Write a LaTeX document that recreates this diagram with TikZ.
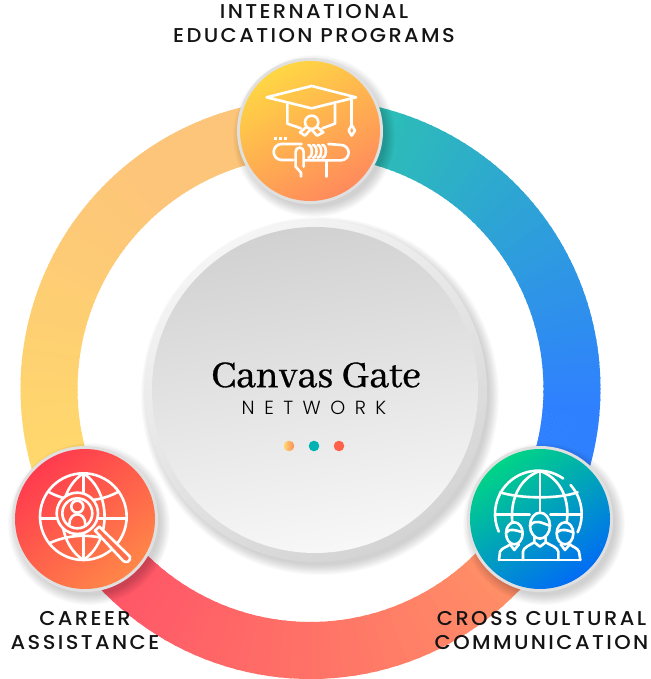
\documentclass[tikz,border=0pt]{standalone}
\usepackage{fontspec}
\setmainfont{Liberation Serif}
\newfontfamily\titlefont[FakeBold=0.7]{Abhaya Libre}
\newfontfamily\lblfont[LetterSpace=12,FakeStretch=1.05]{Poppins Medium}
\newfontfamily\netfont[LetterSpace=50]{Poppins Light}
\usetikzlibrary{calc}
\definecolor{cA}{HTML}{FBB585}
\definecolor{cB}{HTML}{FFD96B}
\definecolor{cC}{HTML}{FF4A68}
\definecolor{cD}{HTML}{FF9A66}
\definecolor{cE}{HTML}{2CC5AE}
\definecolor{cF}{HTML}{2F80FF}
\definecolor{tA}{HTML}{FFD644}
\definecolor{tB}{HTML}{FF8A5C}
\definecolor{lA}{HTML}{FF3B4E}
\definecolor{lB}{HTML}{FF8648}
\definecolor{rA}{HTML}{00D486}
\definecolor{rB}{HTML}{006CF5}
\tikzset{
  lbl/.style={font=\lblfont\fontsize{20}{24}\selectfont, align=center, text=black!92, inner sep=0pt},
  ico/.style={every path/.style={draw=white,line width=2.6pt,line cap=round,line join=round}},
}
\newcommand{\ringarc}[4]{%
  \foreach \i in {0,...,59}{%
    \pgfmathsetmacro{\aa}{#1+(#2-#1)*\i/60}%
    \pgfmathsetmacro{\ab}{#1+(#2-#1)*(\i+1.3)/60}%
    \pgfmathsetmacro{\pp}{100*(1-\i/59)}%
    \fill[#3!\pp!#4] ($(rc)+(\aa:290pt)$) arc[start angle=\aa,end angle=\ab,radius=290pt]
      -- ($(rc)+(\ab:233pt)$) arc[start angle=\ab,end angle=\aa,radius=233pt] -- cycle;
  }%
}
\newcommand{\softshadow}[3]{%
  \foreach \k in {0,...,9}{%
    \fill[black,opacity=0.018] (#1+4,#2-5) circle[radius=#3+8-\k*1.1];
  }%
}
\begin{document}
\begin{tikzpicture}[x=1pt,y=1pt]
\useasboundingbox (0,0) rectangle (650,679);
\coordinate (rc) at (310.5,290);
\ringarc{86}{130}{cA}{cA!55!cB}
\ringarc{130}{200}{cA!55!cB}{cB}
\ringarc{205}{335}{cC}{cD}
\ringarc{85}{-5}{cE}{cF}
\ringarc{-5}{-25}{cF}{cF}

% centre disc
\softshadow{316}{288}{171}
\shade[top color=black!4,bottom color=black!17,shading angle=30] (316,288) circle[radius=171];
\shade[top color=black!18,bottom color=black!3,shading angle=10] (315,289) circle[radius=163];
\node (title) at (316,304) {\titlefont\fontsize{41.5}{44}\selectfont Canvas Gate};
\node (net) at (314,271) {\netfont\fontsize{19}{22}\selectfont NETWORK};
\shade[left color=cB,right color=tB] (289,233) circle[radius=5.3];
\fill[fill={rgb,255:red,0;green,178;blue,178}] (314,233) circle[radius=5.3];
\fill[fill={rgb,255:red,255;green,96;blue,74}] (339,233) circle[radius=5.3];

% top badge
\softshadow{310}{548}{73}
\fill[black!12] (310,548) circle[radius=73];
\shade[top color=tA,bottom color=tB,shading angle=30] (310,548) circle[radius=70];
\begin{scope}[shift={(225,634)},x=0.3333pt,y=-0.3333pt,ico]
\draw (125,157) -- (260,123) -- (393,157) -- (260,190) -- cycle;
\draw (380,165) -- (380,240);
\draw (380,240) -- (371,257) -- (380,272) -- (390,257) -- cycle;
\draw (187,178) -- (187,236) -- (228,250);
\draw (330,178) -- (330,236) -- (292,250);
\draw (260,232) circle[radius=20];
\draw (243,247) -- (225,262) -- (240,272) -- (258,252) -- (276,272) -- (295,262) -- (277,247);
\draw[line cap=rect,dash pattern=on 0.6pt off 4.4pt] (150,280) -- (185,280);
\draw (230,297) -- (170,297) arc[start angle=-90,end angle=-270,radius=24] -- (205,345);
\draw (310,297) -- (348,300) arc[start angle=-90,end angle=90,radius=23] -- (240,346);
\draw (212,345) -- (212,320) arc[start angle=180,end angle=360,radius=12] -- (236,345) -- (236,365);
\draw (212,345) -- (212,365) -- (228,383) -- (228,395);
\draw (305,346) -- (305,395);
\foreach \xx in {250,264,278,292}{\draw (\xx,300) .. controls (\xx+14,300) and (\xx+14,338) .. (\xx,338);}
\end{scope}

% right badge
\softshadow{540}{160}{73}
\fill[black!12] (540,160) circle[radius=73];
\shade[top color=rA,bottom color=rB,shading angle=35] (540,160) circle[radius=70];
\begin{scope}[shift={(455,244)},x=0.3333pt,y=-0.3333pt,ico]
\draw (324.6,130.5) arc[start angle=-55,end angle=-204,radius=130];
\draw (346.6,150) arc[start angle=-42,end angle=25,radius=130];
\draw (255,108) -- (255,232);
\draw (120,238) -- (224,238); \draw (286,238) -- (380,238);
\draw (135,172) .. controls (200,192) and (310,192) .. (368,172);
\draw (255,108) .. controls (190,130) and (165,200) .. (172,262);
\draw (255,108) .. controls (320,130) and (345,200) .. (335,262);
% people
\draw (255,272) ellipse[x radius=30,y radius=39];
\draw (226,272) .. controls (240,250) and (262,265) .. (284,272);
\draw (238,308) -- (238,322) -- (255,335) -- (272,322) -- (272,308);
\draw (204,375) -- (204,350) .. controls (204,338) and (225,330) .. (238,322);
\draw (310,375) -- (310,350) .. controls (310,338) and (285,330) .. (272,322);
\draw (132,375) -- (376,375);
\draw (132,375) -- (135,350) .. controls (140,338) and (160,335) .. (165,328);
\draw (376,375) -- (372,350) .. controls (368,338) and (350,335) .. (345,328);
\draw (178,295) ellipse[x radius=25,y radius=33];
\draw (330,295) ellipse[x radius=25,y radius=33];
\draw (154,292) .. controls (165,278) and (185,287) .. (203,292);
\draw (306,292) .. controls (320,278) and (340,287) .. (355,292);
\draw (165,328) -- (178,345) -- (192,328);
\draw (317,328) -- (330,345) -- (345,328);
\end{scope}

% left badge
\softshadow{85}{160}{73}
\fill[black!12] (85,160) circle[radius=73];
\shade[top color=lA,bottom color=lB,shading angle=40] (85,160) circle[radius=70];
\begin{scope}[shift={(0,244)},x=0.3333pt,y=-0.3333pt,ico]
\draw (250,245) circle[radius=130];
\draw (250,115) -- (250,375);
\draw (120,250) -- (380,250);
\draw (250,115) .. controls (165,170) and (165,320) .. (250,375);
\draw (250,115) .. controls (335,170) and (335,320) .. (250,375);
\draw (148,172) .. controls (210,205) and (290,205) .. (352,172);
\draw (148,325) .. controls (210,295) and (290,295) .. (352,325);
\fill[fill={rgb,255:red,255;green,92;blue,74},draw=white] (232,235) circle[radius=62];
\draw (232,235) circle[radius=45];
\draw (232,215) circle[radius=18];
\draw (208,268) .. controls (208,228) and (256,228) .. (256,268);
\fill[fill={rgb,255:red,255;green,110;blue,74},draw=white] (285,287) -- (298,275) -- (390,365) .. controls (392,380) and (380,385) .. (370,378) -- cycle;
\end{scope}

% labels
\node[lbl] (l1) at (314,655.5) {INTERNATIONAL\\EDUCATION PROGRAMS};
\node[lbl] (l2) at (85,48.5) {CAREER\\ASSISTANCE};
\node[lbl] (l3) at (541.5,48.5) {CROSS CULTURAL\\COMMUNICATION};
\end{tikzpicture}
\end{document}
